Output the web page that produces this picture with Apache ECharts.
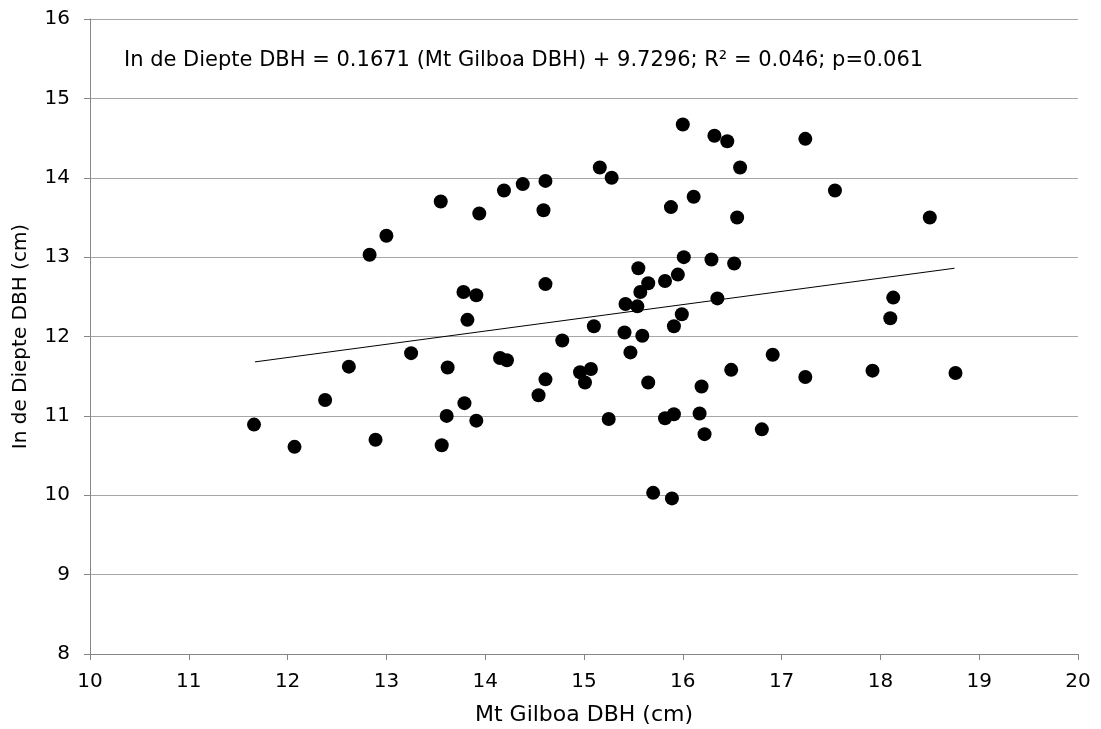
<!DOCTYPE html>
<html><head><meta charset="utf-8">
<script src="https://cdn.jsdelivr.net/npm/echarts@6/dist/echarts.min.js"></script>
<style>html,body{margin:0;padding:0;background:#fff}#c{width:1101px;height:729px}</style>
</head><body><div id="c"></div>
<script>
const gilboaDBH = [11.66,12.07,12.38,12.62,12.83,12.89,13.00,13.25,13.55,13.56,13.61,13.62,13.78,13.79,13.82,13.91,13.91,13.94,14.19,14.15,14.22,14.38,14.54,14.59,14.61,14.61,14.61,14.78,15.16,15.28,16.00,16.32,16.45,16.58,17.24,17.54,15.88,16.11,16.55,16.01,16.29,16.52,15.55,15.95,15.82,15.65,15.57,15.42,15.54,16.35,15.99,15.10,15.41,15.59,15.91,15.47,14.96,15.07,15.01,15.65,16.19,16.49,16.91,17.24,15.25,15.82,15.91,16.17,16.22,16.80,15.70,15.89,18.50,18.13,18.10,17.92,18.76];
const diepteDBH = [10.89,10.61,11.20,11.62,13.03,10.70,13.27,11.79,13.70,10.63,11.00,11.61,12.56,11.16,12.21,10.94,12.52,13.55,13.84,11.73,11.70,13.92,11.26,13.59,11.46,12.66,13.96,11.95,14.13,14.00,14.67,14.53,14.46,14.13,14.49,13.84,13.63,13.76,13.50,13.00,12.97,12.92,12.86,12.78,12.70,12.67,12.56,12.41,12.38,12.48,12.28,12.13,12.05,12.01,12.13,11.80,11.55,11.59,11.42,11.42,11.37,11.58,11.77,11.49,10.96,10.97,11.02,11.03,10.77,10.83,10.03,9.96,13.50,12.49,12.23,11.57,11.54];
const trendX = [11.67, 18.75];
const trendY = [11.68, 12.86];
const equationText = 'In de Diepte DBH = 0.1671 (Mt Gilboa DBH) + 9.7296; R² = 0.046; p=0.061';
const xTitle = 'Mt Gilboa DBH (cm)';
const yTitle = 'In de Diepte DBH (cm)';

const pts = gilboaDBH.map((x, i) => [x, diepteDBH[i]]);
const trend = trendX.map((x, i) => [x, trendY[i]]);
const FONT = '"DejaVu Sans", sans-serif';
const chart = echarts.init(document.getElementById('c'), null, {renderer: 'canvas'});
chart.setOption({
  animation: false,
  backgroundColor: '#fff',
  grid: {left: 90, right: 23, top: 19, bottom: 75, containLabel: false, outerBoundsMode: 'none'},
  xAxis: {
    type: 'value', min: 10, max: 20, interval: 1,
    name: xTitle, nameLocation: 'middle', nameGap: 50, nameMoveOverlap: false,
    nameTextStyle: {fontFamily: FONT, fontSize: 22, color: '#000'},
    axisLine: {show: true, onZero: false, lineStyle: {color: '#868686', width: 1}},
    axisTick: {show: true, length: 6, lineStyle: {color: '#868686'}},
    axisLabel: {fontFamily: FONT, fontSize: 20, color: '#000', margin: 18},
    splitLine: {show: false}
  },
  yAxis: {
    type: 'value', min: 8, max: 16, interval: 1,
    name: yTitle, nameLocation: 'middle', nameGap: 59, nameMoveOverlap: false,
    nameTextStyle: {fontFamily: FONT, fontSize: 20, color: '#000'},
    axisLine: {show: true, onZero: false, lineStyle: {color: '#868686', width: 1}},
    axisTick: {show: true, length: 6, lineStyle: {color: '#868686'}},
    axisLabel: {fontFamily: FONT, fontSize: 20, color: '#000', margin: 20},
    splitLine: {show: true, lineStyle: {color: '#a6a6a6', width: 1}}
  },
  series: [
    {type: 'scatter', data: pts, symbol: 'circle', symbolSize: 14,
     itemStyle: {color: '#000', opacity: 1}, z: 3},
    {type: 'line', data: trend, symbol: 'none', lineStyle: {color: '#000', width: 1},
     silent: true, z: 2}
  ],
  graphic: [{
    type: 'text', left: 124, top: 50,
    style: {text: equationText, font: '21px ' + FONT, fill: '#000'}
  }]
});
</script></body></html>
